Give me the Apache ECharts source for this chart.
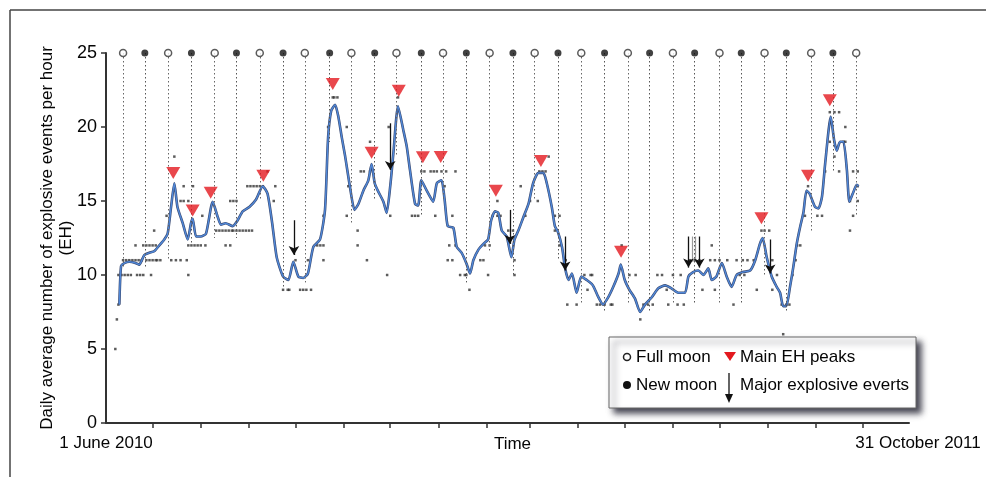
<!DOCTYPE html>
<html>
<head>
<meta charset="utf-8">
<script src="https://cdn.jsdelivr.net/npm/echarts@6/dist/echarts.min.js"></script>
<style>
  html, body { margin: 0; padding: 0; background: #fff; }
  #chart { width: 986px; height: 477px; }
</style>
</head>
<body>
<div id="chart"></div>
<script>
// x is counted in days from 1 June 2010
const axisEnd = 517; // 31 October 2011
const monthStarts = [30, 61, 92, 122, 153, 183, 214, 245, 273, 304, 334, 365, 395, 426, 457, 487];
const endLabels = ['1 June 2010', '31 October 2011'];

// moon phases drawn at the top of the chart, with the level each dotted line runs down to
const fullMoonDays = [11, 40, 70, 99, 128, 158, 187, 217, 247, 276, 306, 336, 365, 395, 424, 454, 483];
const fullMoonEnds = [10.5, 11, 12.5, 15, 9.5, 13.5, 18, 15, 11.5, 15, 8, 8, 8, 8, 10, 13, 14];
const newMoonDays = [25, 55, 84, 114, 144, 173, 203, 232, 262, 291, 321, 350, 379, 409, 438, 468];
const newMoonEnds = [10.5, 12, 12.5, 9, 19, 15, 14, 9.5, 10, 11, 7.5, 7.5, 8, 8, 7.5, 17];

// smoothed EH curve [day, EH]
const ehSmooth = [
  [8.6, 8.0], [9.7, 10.6], [11.8, 10.8], [15, 10.9], [19.3, 10.8], [21.4, 10.7], [24.7, 11.35],
  [27.9, 11.5], [31, 11.6], [34.3, 12.0], [37.5, 12.4], [39.7, 12.8], [41.9, 14.6], [44, 16.2],
  [46, 14.6], [49.4, 13.5], [52.6, 12.4], [54.7, 13.5], [55.8, 13.8], [58, 12.6], [61, 12.6],
  [64.4, 12.8], [68.7, 14.95], [72, 13.9], [74, 13.4], [77, 13.5], [81.6, 13.3], [84.8, 13.7],
  [88, 14.3], [92.3, 14.6], [96.6, 15.1], [100.9, 16.0], [104, 15.5], [107, 13.5], [109.9, 11.2],
  [114, 9.9], [117.4, 9.66], [120.6, 10.9], [123.8, 9.9], [127, 9.8], [130, 10.1], [133.5, 11.9],
  [137.8, 12.4], [141, 14.4], [143, 19.3], [145, 21.1], [147.5, 21.5], [149.6, 20.7], [151.8, 19.3],
  [154, 18.0], [157, 16.0], [160, 14.4], [162.5, 14.8], [165.7, 15.7], [168.9, 16.4], [171, 17.5],
  [173, 16.2], [175, 15.7], [178.6, 14.95], [180.7, 14.2], [183, 16.0], [185, 18.2], [188, 21.4],
  [191.4, 19.8], [193.6, 18.7], [195.7, 17.1], [199, 14.8], [201, 14.7], [203, 16.4], [206.5, 15.7],
  [208.6, 15.3], [210.7, 14.95], [213, 16.2], [216, 16.4], [218, 15.1], [220, 13.3], [223.6, 13.2],
  [225.8, 11.9], [229, 11.5], [232, 10.8], [234.4, 10.1], [236.5, 11.0], [239.7, 11.7], [243, 12.1],
  [246, 12.4], [248, 13.7], [250.5, 14.3], [252.6, 14.2], [254.8, 13.0], [258, 12.6], [261, 11.2],
  [263, 12.4], [265.5, 13.0], [268.7, 13.9], [272, 14.8], [275, 16.2], [278.4, 16.9], [281.6, 16.9],
  [283.8, 16.2], [287, 14.6], [289, 13.3], [291, 12.9], [293.6, 11.9], [295.6, 10.45], [297.8, 9.66],
  [300, 10.1], [303, 8.8], [306, 9.9], [309.5, 9.66], [312.7, 9.4], [314, 9.2], [317, 8.5], [320, 8.0],
  [323.4, 8.5], [326.6, 9.2], [330, 10.1], [331.4, 10.7], [334, 9.66], [337, 9.0], [340.6, 8.4],
  [343.9, 7.5], [347, 8.0], [351.4, 8.5], [355.6, 9.1], [360, 9.3], [364, 9.1], [368.5, 8.8],
  [372.8, 8.8], [375, 9.9], [378, 10.2], [381.4, 10.3], [384.6, 10.0], [387.8, 10.45], [390, 9.66],
  [393, 9.9], [396.5, 10.8], [399.6, 9.9], [402.8, 9.2], [406, 10.0], [410, 10.2], [414.7, 10.3],
  [418, 11.0], [421, 12.1], [422.8, 12.5], [425.4, 11.2], [428.6, 9.9], [431.8, 9.2], [434, 8.8],
  [436, 7.9], [438, 7.9], [440.4, 9.2], [442.6, 10.6], [444.7, 12.1], [447, 13.3], [449, 14.2],
  [451, 15.7], [453, 15.5], [456.5, 14.6], [458.7, 14.5], [461, 15.3], [463, 17.5], [466.6, 20.7],
  [468.8, 19.1], [470.5, 18.4], [472.6, 19.0], [474.8, 19.0], [477, 17.1], [478.6, 14.95],
  [480.8, 15.5], [483.4, 16.1], [484.5, 16.0]
];

// daily values [day, EH]
const ehDaily = [
  [6, 5], [7, 7], [8, 8],
  [8, 10], [10, 10], [12, 10], [14, 10], [16, 10], [20, 10], [22, 10], [24, 10], [29, 10], [53, 10],
  [11, 11], [13, 11], [15, 11], [17, 11], [19, 11], [21, 11], [23, 11], [26, 11], [28, 11], [30, 11],
  [32, 11], [33, 11], [35, 11], [42, 11], [45, 11], [48, 11], [52, 11],
  [19, 12], [24, 12], [26, 12], [28, 12], [30, 12], [32, 12], [53, 12], [55, 12], [57, 12], [59, 12],
  [61, 12], [64, 12], [77, 12], [80, 12],
  [31, 13], [71, 13], [73, 13], [75, 13], [77, 13], [79, 13], [81, 13], [82, 13], [84, 13], [86, 13],
  [88, 13], [90, 13], [92, 13], [94, 13],
  [39, 14], [62, 14], [48, 15], [50, 15], [53, 15], [80, 15], [82, 15], [84, 15], [108, 15],
  [50, 16], [56, 16], [91, 16], [93, 16], [95, 16], [97, 16], [99, 16], [101, 16], [104, 17], [44, 18],
  [109, 16], [114, 9], [117, 9], [118, 9], [125, 9], [127, 9], [129, 9], [132, 9], [122, 11], [130, 11],
  [136, 12], [138, 12], [140, 12], [140, 11], [140, 14], [143, 20], [146, 22], [147, 22], [149, 22],
  [155, 20], [156, 16], [155, 14], [162, 13], [162, 12], [168, 11], [164, 17], [166, 17], [170, 17],
  [170, 19], [181, 10], [182, 20], [183, 14], [188, 22], [197, 14], [199, 14], [201, 14], [203, 17],
  [205, 17], [209, 17], [212, 14],
  [211, 17], [213, 17], [216, 17], [219, 17], [225, 17], [218, 16], [223, 14], [221, 12], [225, 12],
  [220, 11], [223, 11], [228, 10], [231, 10], [232, 10], [234, 9], [241, 11], [243, 11], [246, 10],
  [244, 12], [247, 12], [249, 14], [252, 14], [254, 14], [252, 15], [259, 13], [262, 13], [263, 11],
  [263, 10], [267, 16], [270, 14], [273, 15], [278, 15], [279, 17], [281, 17], [283, 17], [285, 18],
  [289, 14], [292, 14], [289, 13], [292, 12], [297, 8], [303, 8], [310, 9], [308, 10], [313, 10],
  [316, 8], [296, 11],
  [312, 10], [318, 8], [321, 8], [325, 8], [326, 8], [344, 7], [337, 10], [341, 10], [332, 12],
  [346, 8], [349, 8], [352, 8], [355, 10], [358, 10], [361, 9], [362, 8], [368, 8], [372, 8],
  [365, 10], [370, 10], [376, 11], [379, 11], [382, 11], [384, 9], [389, 11], [392, 11], [395, 11],
  [400, 11], [390, 12], [392, 9], [404, 8], [406, 11], [410, 11], [413, 11], [417, 11], [408, 10],
  [411, 10], [419, 9],
  [422, 13], [424, 13], [427, 13], [429, 11], [429, 9], [432, 10], [436, 6], [435, 8], [438, 8],
  [440, 8], [442, 10], [444, 11], [445, 12], [447, 12], [450, 14], [452, 16], [458, 14], [461, 14],
  [463, 17], [466, 21], [469, 21], [472, 21], [466, 19], [469, 18], [472, 17], [476, 20], [475, 19],
  [476, 19], [481, 17], [484, 17], [479, 15], [484, 15], [481, 14], [479, 13], [484, 16]
];

// main EH peaks [day, EH]
const mainPeaks = [
  [43.3, 16.9], [55.8, 14.35], [67.4, 15.56], [101.3, 16.7], [146, 22.9], [171, 18.26],
  [188.5, 22.45], [204, 17.95], [215.5, 17.97], [251, 15.7], [280, 17.7], [331.6, 11.57],
  [422, 13.83], [452, 16.7], [466, 21.8]
];

// major explosive events [day, arrow top, arrow tip]
const majorEvents = [
  [121, 13.7, 11.35], [183, 20.25, 17.1], [260, 14.4, 12.1], [295.6, 12.6, 10.3],
  [375, 12.6, 10.5], [382, 12.6, 10.5], [427.6, 12.4, 10.1]
];
// faint extra events inside the cluster of mid-June 2011
const minorEvents = [[377.5, 12.6, 10.9], [379.5, 12.6, 10.9]];

const font = '"Liberation Sans", Arial, Helvetica, sans-serif';
const textColor = '#050505';

const moonLines = (days, ends) => days.map((d, i) => [
  { coord: [d, 25] }, { coord: [d, ends[i]] }
]);
const eventLines = list => list.map(e => [{ coord: [e[0], e[1]] }, { coord: [e[0], e[2]] }]);

const chart = echarts.init(document.getElementById('chart'));
chart.setOption({
  animation: false,
  backgroundColor: '#fff',
  grid: { left: 106, right: 77, top: 53, bottom: 54, containLabel: false },
  xAxis: {
    type: 'value',
    min: 0,
    max: axisEnd,
    name: 'Time',
    nameLocation: 'middle',
    nameGap: 13,
    nameMoveOverlap: false,
    nameTextStyle: { fontFamily: font, fontSize: 17, color: textColor, verticalAlign: 'top', padding: [0, 0, 0, 10] },
    splitLine: { show: false },
    axisLine: { lineStyle: { color: '#333', width: 2 } },
    axisTick: { customValues: monthStarts, length: 5, lineStyle: { color: '#333', width: 1.5 } },
    axisLabel: {
      customValues: [0, axisEnd],
      margin: 12,
      fontFamily: font, fontSize: 17, color: textColor,
      formatter: v => (v === 0 ? endLabels[0] : '{r|' + endLabels[1] + '}'),
      rich: { r: { fontFamily: font, fontSize: 17, color: textColor, padding: [0, 0, 0, 18] } }
    }
  },
  yAxis: {
    type: 'value',
    min: 0,
    max: 25,
    interval: 5,
    name: 'Daily average number of explosive events per hour\n(EH)',
    nameLocation: 'middle',
    nameGap: 30,
    nameMoveOverlap: false,
    nameTextStyle: { fontFamily: font, fontSize: 17, lineHeight: 19, color: textColor, align: 'center' },
    splitLine: { show: false },
    axisLine: { show: true, lineStyle: { color: '#333', width: 2 } },
    axisTick: { show: true, length: 5, lineStyle: { color: '#333', width: 1.5 } },
    axisLabel: { margin: 9, fontFamily: font, fontSize: 18, color: textColor }
  },
  series: [
    {
      name: 'Full moon',
      type: 'scatter',
      z: 5,
      data: fullMoonDays.map(d => [d, 25]),
      symbol: 'circle',
      symbolSize: 7,
      itemStyle: { color: '#fff', borderColor: '#333', borderWidth: 1.5 },
      markLine: {
        silent: true, symbol: 'none', label: { show: false },
        lineStyle: { color: '#666', width: 1, type: [1.5, 2.5] },
        data: moonLines(fullMoonDays, fullMoonEnds)
      }
    },
    {
      name: 'New moon',
      type: 'scatter',
      z: 5,
      data: newMoonDays.map(d => [d, 25]),
      symbol: 'circle',
      symbolSize: 7,
      itemStyle: { color: '#111' },
      markLine: {
        silent: true, symbol: 'none', label: { show: false },
        lineStyle: { color: '#555', width: 1, type: [1.5, 2.5] },
        data: moonLines(newMoonDays, newMoonEnds)
      }
    },
    {
      name: 'Daily EH',
      type: 'scatter',
      z: 3,
      data: ehDaily,
      symbol: 'rect',
      symbolSize: 2.5,
      itemStyle: { color: '#333' }
    },
    {
      name: 'EH outline',
      type: 'line',
      z: 4,
      data: ehSmooth,
      smooth: 0.2,
      showSymbol: false,
      lineStyle: { color: '#3a4a72', width: 2.6 }
    },
    {
      name: 'EH',
      type: 'line',
      z: 4,
      data: ehSmooth,
      smooth: 0.2,
      showSymbol: false,
      lineStyle: { color: '#5088d8', width: 1.4 }
    },
    {
      name: 'Main EH peaks',
      type: 'scatter',
      z: 6,
      data: mainPeaks,
      symbol: 'triangle',
      symbolRotate: 180,
      symbolSize: [14, 12],
      itemStyle: { color: '#e3191f' }
    },
    {
      name: 'Minor events',
      type: 'scatter',
      z: 6,
      data: [],
      markLine: {
        silent: true, symbol: 'none', label: { show: false },
        lineStyle: { color: '#999', width: 1.2, type: 'solid' },
        data: eventLines(minorEvents)
      }
    },
    {
      name: 'Major explosive events',
      type: 'scatter',
      z: 7,
      data: [],
      markLine: {
        silent: true,
        symbol: ['none', 'arrow'],
        symbolSize: [8, 9],
        label: { show: false },
        lineStyle: { color: '#111', width: 1.3, type: 'solid' },
        data: eventLines(majorEvents)
      }
    }
  ],
  graphic: [
    { type: 'line', shape: { x1: 10, y1: 10, x2: 986, y2: 10 }, style: { stroke: '#444', lineWidth: 1.5 } },
    { type: 'line', shape: { x1: 10, y1: 10, x2: 10, y2: 477 }, style: { stroke: '#444', lineWidth: 1.5 } },
    {
      type: 'group',
      z: 100,
      children: [
        {
          type: 'rect',
          shape: { x: 609, y: 337, width: 307, height: 71 },
          style: {
            fill: '#fff', stroke: '#666', lineWidth: 1,
            shadowBlur: 6, shadowOffsetX: 5, shadowOffsetY: 5, shadowColor: 'rgba(25,25,40,0.8)'
          }
        },
        { type: 'circle', shape: { cx: 627, cy: 357, r: 3.5 }, style: { fill: '#fff', stroke: '#222', lineWidth: 1.5 } },
        { type: 'text', x: 636, y: 357, style: { text: 'Full moon', fontFamily: font, fontSize: 17, fill: textColor, verticalAlign: 'middle' } },
        { type: 'circle', shape: { cx: 627, cy: 385, r: 4 }, style: { fill: '#111' } },
        { type: 'text', x: 636, y: 385, style: { text: 'New moon', fontFamily: font, fontSize: 17, fill: textColor, verticalAlign: 'middle' } },
        { type: 'polygon', shape: { points: [[724, 352], [736, 352], [730, 361]] }, style: { fill: '#e3191f' } },
        { type: 'text', x: 740, y: 357, style: { text: 'Main EH peaks', fontFamily: font, fontSize: 17, fill: textColor, verticalAlign: 'middle' } },
        { type: 'line', shape: { x1: 729, y1: 373, x2: 729, y2: 396 }, style: { stroke: '#111', lineWidth: 1.3 } },
        { type: 'polygon', shape: { points: [[725, 394], [733, 394], [729, 403]] }, style: { fill: '#111' } },
        { type: 'text', x: 740, y: 385, style: { text: 'Major explosive everts', fontFamily: font, fontSize: 17, fill: textColor, verticalAlign: 'middle' } }
      ]
    }
  ]
});
</script>
</body>
</html>
